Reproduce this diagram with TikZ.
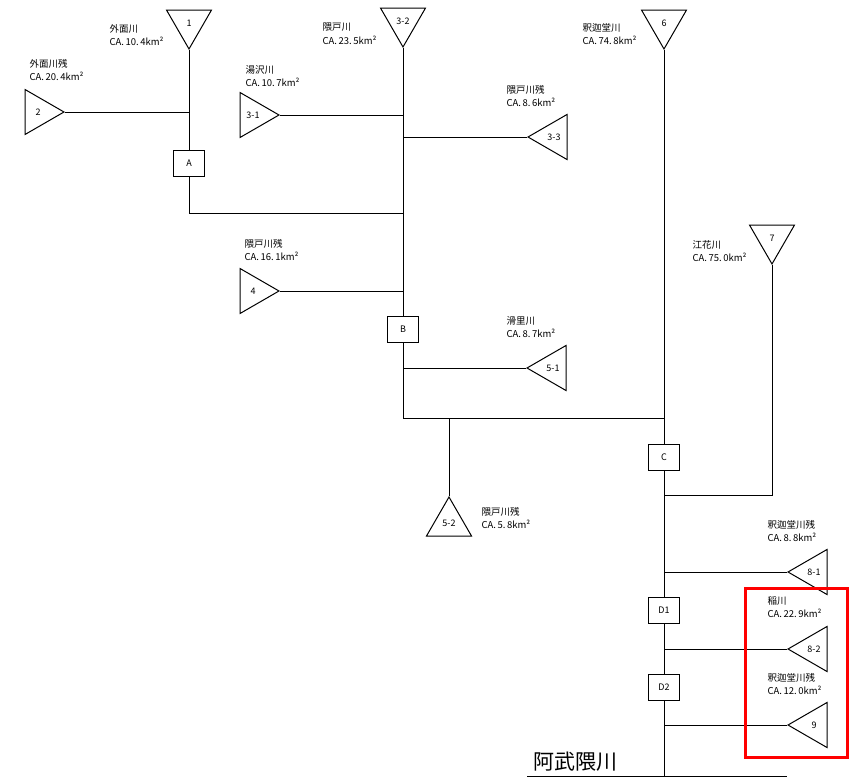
\documentclass[tikz,border=0pt]{standalone}
\usepackage{fontspec}
\newfontfamily\jpfont{Noto Sans CJK JP}
\usetikzlibrary{shapes.geometric, positioning}

\begin{document}
\begin{tikzpicture}[x=1pt, y=-1pt, line width=1pt,
  inflow/.style={draw, regular polygon, regular polygon sides=3, minimum size=52pt,
    inner sep=0pt, font=\jpfont\fontsize{9}{10}\selectfont},
  tridown/.style={inflow, shape border rotate=180, anchor=corner 1},
  triup/.style={inflow, anchor=corner 1},
  trileft/.style={inflow, shape border rotate=90, anchor=corner 1},
  triright/.style={inflow, shape border rotate=-90, anchor=corner 1},
  gauge/.style={draw, minimum width=31pt, minimum height=26pt, inner sep=0pt,
    font=\jpfont\fontsize{9}{10}\selectfont},
  area/.style={anchor=west, align=left, inner sep=0pt,
    font=\jpfont\fontsize{9.5}{13.5}\selectfont}]
  \useasboundingbox (0,0) rectangle (854,779);
  % inflow points
  \node[tridown]  (t1)  at (189,50)  {1};
  \node[triright] (t2)  at (65,112)  {2};
  \node[tridown]  (t32) at (403,48)  {3-2};
  \node[triright] (t31) at (280,115) {3-1};
  \node[trileft]  (t33) at (527,137) {3-3};
  \node[tridown]  (t6)  at (664,50)  {6};
  \node[triright] (t4)  at (280,291) {4};
  \node[trileft]  (t51) at (526,368) {5-1};
  \node[triup]    (t52) at (449,496) {5-2};
  \node[tridown]  (t7)  at (772,265) {7};
  \node[trileft]  (t81) at (787,572) {8-1};
  \node[trileft]  (t82) at (787,649) {8-2};
  \node[trileft]  (t9)  at (787,725) {9};
  % basin names and areas
  \node[area] at (109,35)  {外面川\\CA.\,10.\,4km²};
  \node[area] at (29,70)   {外面川残\\CA.\,20.\,4km²};
  \node[area] at (322,34)  {隈戸川\\CA.\,23.\,5km²};
  \node[area] at (245,76)  {湯沢川\\CA.\,10.\,7km²};
  \node[area] at (506,96)  {隈戸川残\\CA.\,8.\,6km²};
  \node[area] at (582,34)  {釈迦堂川\\CA.\,74.\,8km²};
  \node[area] at (244,250) {隈戸川残\\CA.\,16.\,1km²};
  \node[area] at (506,327) {滑里川\\CA.\,8.\,7km²};
  \node[area] at (481,518) {隈戸川残\\CA.\,5.\,8km²};
  \node[area] at (692,251) {江花川\\CA.\,75.\,0km²};
  \node[area] at (767,531) {釈迦堂川残\\CA.\,8.\,8km²};
  \node[area] at (767,607) {稲川\\CA.\,22.\,9km²};
  \node[area] at (767,684) {釈迦堂川残\\CA.\,12.\,0km²};
  % reference points
  \node[gauge] (A)  at (189,163) {A};
  \node[gauge] (B)  at (403,329) {B};
  \node[gauge] (C)  at (664,457) {C};
  \node[gauge] (D1) at (664,610) {D1};
  \node[gauge] (D2) at (664,687) {D2};
  \coordinate (jA) at (403,213);
  \coordinate (jB) at (664,418);
  \coordinate (j7) at (664,495);
  \coordinate (out) at (664,776);
  \coordinate (rivW) at (527,776);
  \coordinate (rivE) at (787,776);
  % river network
  \draw (t1.corner 1) -- (A);
  \draw (t2.corner 1) -- (t2.corner 1 -| A);
  \draw (A) |- (jA);
  \draw (t32.corner 1) -- (B);
  \draw (t31.corner 1) -- (t31.corner 1 -| B);
  \draw (t33.corner 1) -- (t33.corner 1 -| B);
  \draw (t4.corner 1) -- (t4.corner 1 -| B);
  \draw (t51.corner 1) -- (t51.corner 1 -| B);
  \draw (B) |- (jB);
  \draw (t52.corner 1) -- (t52.corner 1 |- jB);
  \draw (t6.corner 1) -- (C);
  \draw (t7.corner 1) |- (j7);
  \draw (C) -- (D1);
  \draw (D1) -- (D2);
  \draw (D2) -- (out);
  \draw (t81.corner 1) -- (t81.corner 1 -| C);
  \draw (t82.corner 1) -- (t82.corner 1 -| C);
  \draw (t9.corner 1) -- (t9.corner 1 -| C);
  % main river
  \draw (rivW) -- (rivE);
  \node[font=\jpfont\fontsize{21}{24}\selectfont, inner sep=0pt] (abukuma) at (575,762) {阿武隈川};
  % highlight
  \draw[red, line width=3pt] (745,588) rectangle (847,757);
\end{tikzpicture}
\end{document}
